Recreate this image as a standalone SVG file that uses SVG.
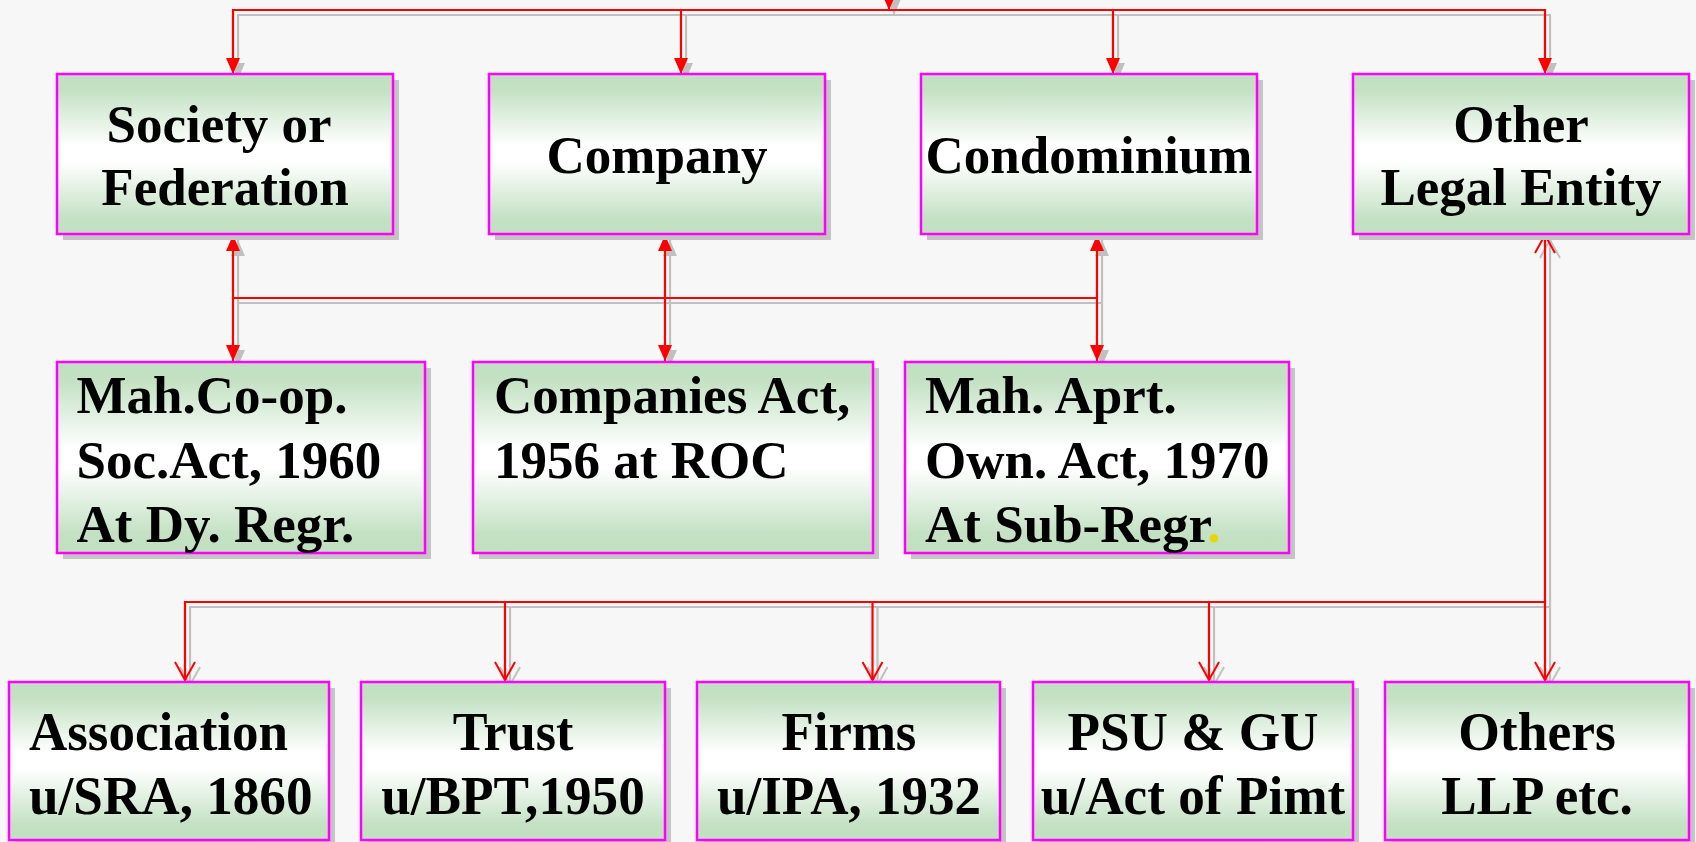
<svg xmlns="http://www.w3.org/2000/svg" width="1696" height="842" viewBox="0 0 1696 842">
  <defs>
    <linearGradient id="boxfill" x1="0" y1="0" x2="0" y2="1">
      <stop offset="0" stop-color="#c1dfc1"/>
      <stop offset="0.1" stop-color="#c4e1c4"/>
      <stop offset="0.45" stop-color="#ffffff"/>
      <stop offset="0.55" stop-color="#ffffff"/>
      <stop offset="0.9" stop-color="#c4e1c4"/>
      <stop offset="1" stop-color="#c1dfc1"/>
    </linearGradient>
    <!-- filled arrowheads -->
    <marker id="ah-r" viewBox="0 0 16 14" refX="16" refY="7" markerWidth="16" markerHeight="14" markerUnits="userSpaceOnUse" orient="auto-start-reverse">
      <path d="M0,0 L16,7 L0,14 Z" fill="#ff0000"/>
    </marker>
    <marker id="ah-g" viewBox="0 0 16 14" refX="16" refY="7" markerWidth="16" markerHeight="14" markerUnits="userSpaceOnUse" orient="auto-start-reverse">
      <path d="M0,0 L16,7 L0,14 Z" fill="#c0c0c0"/>
    </marker>
    <!-- open arrowheads -->
    <marker id="av-r" viewBox="-2 -2 22 24" refX="18" refY="10" markerWidth="22" markerHeight="24" markerUnits="userSpaceOnUse" orient="auto-start-reverse">
      <path d="M0,0 L18,10 L0,20" fill="none" stroke="#ff0000" stroke-width="2"/>
    </marker>
    <marker id="av-g" viewBox="-2 -2 22 24" refX="18" refY="10" markerWidth="22" markerHeight="24" markerUnits="userSpaceOnUse" orient="auto-start-reverse">
      <path d="M0,0 L18,10 L0,20" fill="none" stroke="#c0c0c0" stroke-width="2"/>
    </marker>
  </defs>
  <style>
    .shadow { fill: #c4c4c4; }
    .box { fill: url(#boxfill); stroke: #ff00ff; stroke-width: 2.5; }
    .t { font-family: "Liberation Serif", "Times New Roman", serif; font-weight: bold; font-size: 53px; fill: #000000; }
    .tb { font-size: 54px; }
    .c { text-anchor: middle; }
    .red path { fill: none; stroke: #ff0000; stroke-width: 2.2; }
    .grey path { fill: none; stroke: #c0c0c0; stroke-width: 2.2; }
    .red .fe { marker-end: url(#ah-r); }
    .red .fb { marker-start: url(#ah-r); marker-end: url(#ah-r); }
    .red .oe { marker-end: url(#av-r); }
    .red .os { marker-start: url(#av-r); }
    .red .ob { marker-start: url(#av-r); marker-end: url(#av-r); }
    .grey .fe { marker-end: url(#ah-g); }
    .grey .fb { marker-start: url(#ah-g); marker-end: url(#ah-g); }
    .grey .oe { marker-end: url(#av-g); }
    .grey .os { marker-start: url(#av-g); }
    .grey .ob { marker-start: url(#av-g); marker-end: url(#av-g); }
  </style>

  <rect x="0" y="0" width="1696" height="842" fill="#f7f7f7"/>

  <!-- connectors -->
  <g id="connectors">
    <g class="grey" transform="translate(5,5)">
      <path class="fe" d="M889,-30 V10"/>
      <path class="fb" d="M233,74 V10 H1545 V74"/>
      <path class="fe" d="M681,10 V74"/>
      <path class="fe" d="M1113,10 V74"/>
      <path class="fb" d="M233,235 V361"/>
      <path class="fb" d="M665,235 V361"/>
      <path class="fb" d="M1097,235 V361"/>
      <path d="M233,298 H1097"/>
      <path class="ob" d="M1545,235 V680"/>
      <path class="os" d="M185,680 V602 H1545"/>
      <path class="oe" d="M505,602 V680"/>
      <path class="oe" d="M872.5,602 V680"/>
      <path class="oe" d="M1209,602 V680"/>
    </g>
    <g class="red">
      <path class="fe" d="M889,-30 V10"/>
      <path class="fb" d="M233,74 V10 H1545 V74"/>
      <path class="fe" d="M681,10 V74"/>
      <path class="fe" d="M1113,10 V74"/>
      <path class="fb" d="M233,235 V361"/>
      <path class="fb" d="M665,235 V361"/>
      <path class="fb" d="M1097,235 V361"/>
      <path d="M233,298 H1097"/>
      <path class="ob" d="M1545,235 V680"/>
      <path class="os" d="M185,680 V602 H1545"/>
      <path class="oe" d="M505,602 V680"/>
      <path class="oe" d="M872.5,602 V680"/>
      <path class="oe" d="M1209,602 V680"/>
    </g>
  </g>

  <!-- top row -->
  <g id="society">
    <rect class="shadow" x="63" y="80" width="336" height="160"/>
    <rect class="box" x="57" y="74" width="336" height="160"/>
    <text class="t c" x="219" y="142">Society or</text>
    <text class="t c" x="225" y="205">Federation</text>
  </g>
  <g id="company">
    <rect class="shadow" x="495" y="80" width="336" height="160"/>
    <rect class="box" x="489" y="74" width="336" height="160"/>
    <text class="t c" x="657" y="173">Company</text>
  </g>
  <g id="condominium">
    <rect class="shadow" x="927" y="80" width="336" height="160"/>
    <rect class="box" x="921" y="74" width="336" height="160"/>
    <text class="t c" x="1089" y="173">Condominium</text>
  </g>
  <g id="other-legal-entity">
    <rect class="shadow" x="1359" y="80" width="336" height="160"/>
    <rect class="box" x="1353" y="74" width="336" height="160"/>
    <text class="t c" x="1521" y="142">Other</text>
    <text class="t c" x="1521" y="205">Legal Entity</text>
  </g>

  <!-- middle row -->
  <g id="mcs-act">
    <rect class="shadow" x="63" y="368" width="368" height="191"/>
    <rect class="box" x="57" y="362" width="368" height="191"/>
    <text class="t" x="76.5" y="413">Mah.Co-op.</text>
    <text class="t" x="76.5" y="477.7">Soc.Act, 1960</text>
    <text class="t" x="76.5" y="541.7">At Dy. Regr.</text>
  </g>
  <g id="companies-act">
    <rect class="shadow" x="479" y="368" width="400" height="191"/>
    <rect class="box" x="473" y="362" width="400" height="191"/>
    <text class="t" x="494" y="413">Companies Act,</text>
    <text class="t" x="494" y="477.7">1956 at ROC</text>
  </g>
  <g id="mao-act">
    <rect class="shadow" x="911" y="368" width="384" height="191"/>
    <rect class="box" x="905" y="362" width="384" height="191"/>
    <text class="t" x="925" y="413">Mah. Aprt.</text>
    <text class="t" x="925" y="477.7">Own. Act, 1970</text>
    <text class="t" x="925" y="541.7">At Sub-Regr<tspan fill="#e4d800">.</tspan></text>
  </g>

  <!-- bottom row -->
  <g id="association">
    <rect class="shadow" x="15" y="688" width="320" height="158"/>
    <rect class="box" x="9" y="682" width="320" height="158"/>
    <text class="t tb" x="29" y="750" textLength="259" lengthAdjust="spacingAndGlyphs">Association</text>
    <text class="t tb" x="29" y="814" textLength="283.5" lengthAdjust="spacingAndGlyphs">u/SRA, 1860</text>
  </g>
  <g id="trust">
    <rect class="shadow" x="367" y="688" width="304" height="158"/>
    <rect class="box" x="361" y="682" width="304" height="158"/>
    <text class="t tb c" x="513" y="750" textLength="120.6" lengthAdjust="spacingAndGlyphs">Trust</text>
    <text class="t tb c" x="513" y="814" textLength="263.5" lengthAdjust="spacingAndGlyphs">u/BPT,1950</text>
  </g>
  <g id="firms">
    <rect class="shadow" x="703" y="688" width="303" height="158"/>
    <rect class="box" x="697" y="682" width="303" height="158"/>
    <text class="t tb c" x="849" y="750" textLength="134.8" lengthAdjust="spacingAndGlyphs">Firms</text>
    <text class="t tb c" x="849" y="814" textLength="264" lengthAdjust="spacingAndGlyphs">u/IPA, 1932</text>
  </g>
  <g id="psu-gu">
    <rect class="shadow" x="1039" y="688" width="320" height="158"/>
    <rect class="box" x="1033" y="682" width="320" height="158"/>
    <text class="t tb c" x="1193" y="750" textLength="251" lengthAdjust="spacingAndGlyphs">PSU &amp; GU</text>
    <text class="t tb c" x="1193" y="814" textLength="304.5" lengthAdjust="spacingAndGlyphs">u/Act of Pimt</text>
  </g>
  <g id="others">
    <rect class="shadow" x="1391" y="688" width="304" height="158"/>
    <rect class="box" x="1385" y="682" width="304" height="158"/>
    <text class="t tb c" x="1537" y="750" textLength="157.5" lengthAdjust="spacingAndGlyphs">Others</text>
    <text class="t tb c" x="1537" y="814" textLength="191.6" lengthAdjust="spacingAndGlyphs">LLP etc.</text>
  </g>
</svg>
